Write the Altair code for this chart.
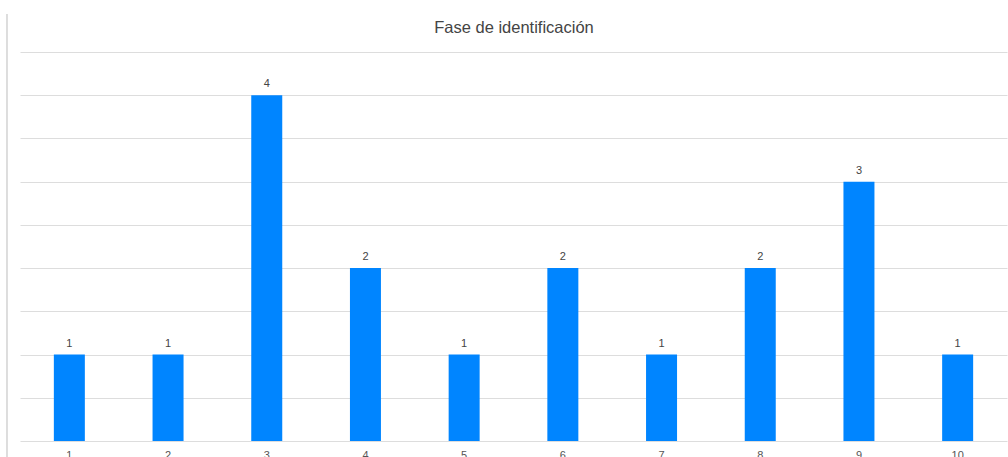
import altair as alt
import pandas as pd

categories = ["1", "2", "3", "4", "5", "6", "7", "8", "9", "10"]
values = [1, 1, 4, 2, 1, 2, 1, 2, 3, 1]
title_text = ["Fase de identificación"]

df = pd.DataFrame({"cat": categories, "val": values})
tdf = pd.DataFrame({"t": title_text})

x = alt.X("cat:N", sort=categories, title=None,
          scale=alt.Scale(paddingInner=0, paddingOuter=0),
          axis=alt.Axis(labelAngle=0, ticks=False, domain=False, labelFontSize=11,
                        labelColor="#555555", labelPadding=8, labelFont="Liberation Sans"))
y = alt.Y("val:Q", title=None,
          scale=alt.Scale(domain=[0, 4.5], nice=False),
          axis=alt.Axis(values=[0, 0.5, 1, 1.5, 2, 2.5, 3, 3.5, 4, 4.5], labels=False,
                        ticks=False, domain=False, gridColor="#dddddd", gridWidth=1))

bars = alt.Chart(df).mark_bar(color="#0085FF", size=31).encode(x=x, y=y)
text = alt.Chart(df).mark_text(dy=-11, fontSize=11, color="#444444",
                               font="Liberation Sans").encode(x=x, y=y, text="val:Q")
vline = alt.Chart(df).mark_rule(color="#dddddd", clip=False).encode(
    x=alt.value(-13), y=alt.value(-38), y2=alt.value(420))
title = alt.Chart(tdf).mark_text(fontSize=16.5, font="Liberation Sans", color="#444444",
                                 baseline="middle", align="center").encode(
    x=alt.value(494), y=alt.value(-24), text="t:N")

chart = alt.layer(vline, bars, text, title).properties(
    width=987, height=389,
    padding={"left": 20, "top": 52, "right": 1, "bottom": 16},
    autosize=alt.AutoSizeParams(type="none"),
).configure_view(stroke=None)

chart.save("out.html", embed_options={"renderer": "svg", "actions": False})
